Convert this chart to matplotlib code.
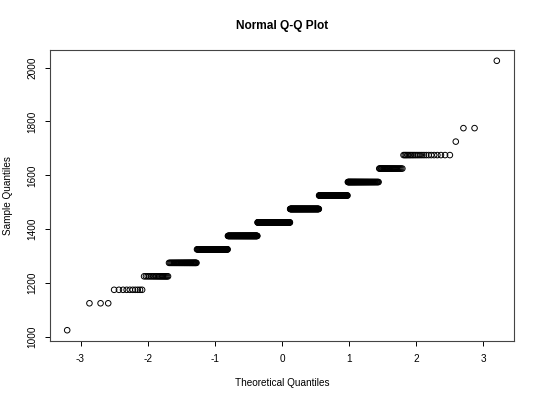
import matplotlib
matplotlib.use("Agg")
import matplotlib.pyplot as plt
import numpy as np
from statistics import NormalDist

# Sample values (distinct levels) and how many observations sit at each level
levels = [1025, 1125, 1175, 1225, 1275, 1325, 1375, 1425, 1475, 1525,
          1575, 1625, 1675, 1725, 1775, 2025]
counts = [1, 3, 10, 19, 41, 78, 107, 138, 117, 92, 65, 28, 22, 1, 2, 1]
x_ticks = [-3, -2, -1, 0, 1, 2, 3]
y_ticks = [1000, 1200, 1400, 1600, 1800, 2000]
title = "Normal Q-Q Plot"
xlabel = "Theoretical Quantiles"
ylabel = "Sample Quantiles"

sample = np.sort(np.repeat(levels, counts))
n = len(sample)
pp = (np.arange(1, n + 1) - 0.5) / n
nd = NormalDist()
theo = np.array([nd.inv_cdf(p) for p in pp])

plt.rcParams['font.family'] = ['Liberation Sans', 'DejaVu Sans']
W, H = 540, 403
fig = plt.figure(figsize=(W / 100, H / 100), dpi=100)
L, R, T, B = 50, 514, 50, 341
ax = fig.add_axes([L / W, 1 - B / H, (R - L) / W, (B - T) / H])

ax.scatter(theo, sample, s=16, facecolors='none', edgecolors='black', linewidths=0.7)

def ext(lo, hi):
    d = (hi - lo) * 0.04
    return lo - d, hi + d

ax.set_xlim(*ext(theo.min(), theo.max()))
ax.set_ylim(*ext(sample.min(), sample.max()))
ax.set_xticks(x_ticks)
ax.set_yticks(y_ticks)
ax.set_xticklabels([str(t) for t in x_ticks])
ax.set_yticklabels([str(t) for t in y_ticks], rotation=90, va='center')
ax.tick_params(direction='out', length=3.6, width=0.7, labelsize=7.2, pad=5.5, colors='black')
for s in ax.spines.values():
    s.set_linewidth(0.8)
    s.set_color('#444444')

fig.text((L + R) / 2 / W, 1 - 26 / H, title, ha='center', va='center',
         fontsize=8.6, fontweight='bold')
fig.text((L + R) / 2 / W, 1 - 383 / H, xlabel, ha='center', va='center', fontsize=7.2)
fig.text(8 / W, 1 - (T + B) / 2 / H, ylabel, ha='center', va='center', fontsize=7.2, rotation=90)

fig.savefig("out.png", dpi=100)
